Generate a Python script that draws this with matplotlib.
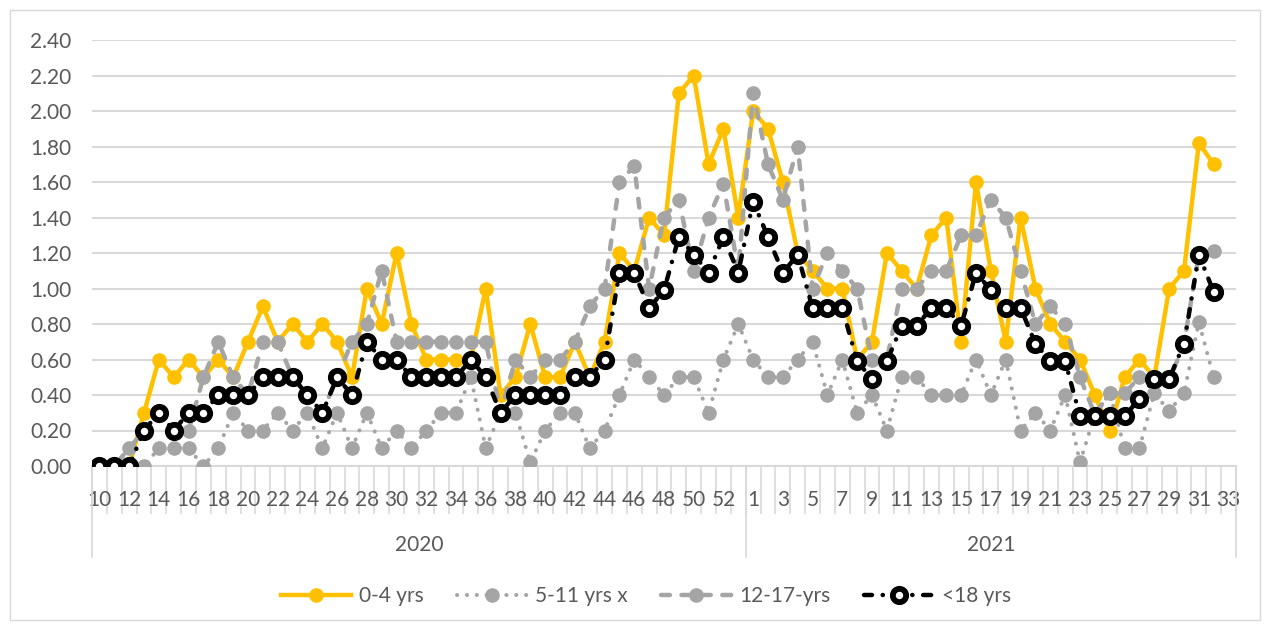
import matplotlib
matplotlib.use("Agg")
import matplotlib.pyplot as plt
import matplotlib.transforms as mtransforms
from matplotlib.patches import Rectangle
import numpy as np

plt.rcParams['font.family'] = ['Lato', 'DejaVu Sans']

# ---- data (incidence per week) ----
weeks_2020 = list(range(10, 54))
weeks_2021 = list(range(1, 34))
week_labels = [str(w) for w in weeks_2020 + weeks_2021]
years = ['2020', '2021']

age_0_4 = [0, 0, 0, 0.30, 0.60, 0.50, 0.60, 0.50, 0.60, 0.50, 0.70, 0.90, 0.70, 0.80, 0.70,
           0.80, 0.70, 0.50, 1.00, 0.80, 1.20, 0.80, 0.60, 0.60, 0.60, 0.60, 1.00, 0.40,
           0.50, 0.80, 0.50, 0.50, 0.70, 0.50, 0.70, 1.20, 1.10, 1.40, 1.30, 2.10, 2.20,
           1.70, 1.90, 1.40,
           2.00, 1.90, 1.60, 1.20, 1.10, 1.00, 1.00, 0.60, 0.70, 1.20, 1.10, 1.00, 1.30,
           1.40, 0.70, 1.60, 1.10, 0.70, 1.40, 1.00, 0.80, 0.70, 0.60, 0.40, 0.20, 0.50,
           0.60, 0.50, 1.00, 1.10, 1.82, 1.70, np.nan]

age_5_11 = [0, 0, 0, 0, 0.10, 0.10, 0.10, 0.00, 0.10, 0.30, 0.20, 0.20, 0.30, 0.20, 0.30,
            0.10, 0.30, 0.10, 0.30, 0.10, 0.20, 0.10, 0.20, 0.30, 0.30, 0.50, 0.10, 0.30,
            0.30, 0.02, 0.20, 0.30, 0.30, 0.10, 0.20, 0.40, 0.60, 0.50, 0.40, 0.50, 0.50,
            0.30, 0.60, 0.80,
            0.60, 0.50, 0.50, 0.60, 0.70, 0.40, 0.60, 0.30, 0.40, 0.20, 0.50, 0.50, 0.40,
            0.40, 0.40, 0.60, 0.40, 0.60, 0.20, 0.30, 0.20, 0.40, 0.02, 0.29, 0.41, 0.10,
            0.10, 0.41, 0.31, 0.41, 0.81, 0.50, np.nan]

age_12_17 = [0, 0, 0.10, 0.20, 0.30, 0.20, 0.20, 0.50, 0.70, 0.50, 0.40, 0.70, 0.70, 0.50,
             0.40, 0.30, 0.50, 0.70, 0.80, 1.10, 0.70, 0.70, 0.70, 0.70, 0.70, 0.70, 0.70,
             0.30, 0.60, 0.50, 0.60, 0.60, 0.70, 0.90, 1.00, 1.60, 1.69, 1.00, 1.40, 1.50,
             1.10, 1.40, 1.59, 1.10,
             2.10, 1.70, 1.50, 1.80, 1.00, 1.20, 1.10, 1.00, 0.60, 0.60, 1.00, 1.00, 1.10,
             1.10, 1.30, 1.30, 1.50, 1.40, 1.10, 0.80, 0.90, 0.80, 0.50, 0.29, 0.41, 0.41,
             0.50, 0.48, 0.48, 0.69, 1.19, 1.21, np.nan]

age_under_18 = [0, 0, 0, 0.20, 0.30, 0.20, 0.30, 0.30, 0.40, 0.40, 0.40, 0.50, 0.50, 0.50,
                0.40, 0.30, 0.50, 0.40, 0.70, 0.60, 0.60, 0.50, 0.50, 0.50, 0.50, 0.60, 0.50,
                0.30, 0.40, 0.40, 0.40, 0.40, 0.50, 0.50, 0.60, 1.09, 1.09, 0.89, 0.99, 1.29,
                1.19, 1.09, 1.29, 1.09,
                1.49, 1.29, 1.09, 1.19, 0.89, 0.89, 0.89, 0.59, 0.49, 0.59, 0.79, 0.79, 0.89,
                0.89, 0.79, 1.09, 0.99, 0.89, 0.89, 0.69, 0.59, 0.59, 0.28, 0.28, 0.28, 0.28,
                0.38, 0.49, 0.49, 0.69, 1.19, 0.98, np.nan]

W, H = 1266, 627
fig = plt.figure(figsize=(W / 100, H / 100), dpi=100)
ax = fig.add_axes([92 / W, 1 - 466 / H, (1236 - 92) / W, (466 - 40) / H])

x = np.arange(len(week_labels))
grid_c = '#d9d9d9'
text_c = '#595959'
fs = 15

ax.plot(x, age_0_4, color='#FFC000', lw=3.2, marker='o', ms=9.5, mec='#FFC000',
        solid_joinstyle='round', label='0-4 yrs', zorder=3)
ax.plot(x, age_5_11, color='#A5A5A5', lw=2.9, ls=(0, (0.05, 2.4)), dash_capstyle='round',
        marker='o', ms=9.5, mec='#A5A5A5', label='5-11 yrs x', zorder=4)
ax.plot(x, age_12_17, color='#A5A5A5', lw=3.2, ls=(0, (2.0, 2.6)), dash_capstyle='round',
        marker='o', ms=9.5, mec='#A5A5A5', label='12-17-yrs', zorder=5)
ax.plot(x, age_under_18, color='black', lw=3.2, ls=(0, (1.8, 2.4, 0.05, 2.4)),
        dash_capstyle='round', marker='o', ms=9.6, mfc='white', mec='black', mew=4.2,
        label='<18 yrs', zorder=6)

ax.set_xlim(-0.5, len(x) - 0.5)
ax.set_ylim(0, 2.4)
ax.set_yticks(np.arange(0, 2.41, 0.2))
ax.set_yticklabels([f'{v:.2f}' for v in np.arange(0, 2.41, 0.2)])
ax.yaxis.grid(True, color=grid_c, lw=1.5)
ax.set_axisbelow(True)
for s in ax.spines.values():
    s.set_visible(False)
ax.tick_params(axis='y', length=0, pad=15, labelsize=fs, labelcolor=text_c)

ax.set_xticks(x[::2])
ax.set_xticklabels(week_labels[::2])
ax.tick_params(axis='x', length=0, pad=17, labelsize=fs, labelcolor=text_c)

# category axis: baseline, separators and year groups
trans = mtransforms.blended_transform_factory(ax.transData, ax.transAxes)
ax_h = 466 - 40
ax.plot([-0.5, len(x) - 0.5], [0, 0], color=grid_c, lw=1.5, transform=trans, clip_on=False)
for i in range(len(x) + 1):
    ax.plot([i - 0.5, i - 0.5], [0, -47 / ax_h], color=grid_c, lw=1.2,
            transform=trans, clip_on=False, zorder=0)
n20 = len(weeks_2020)
for b in [-0.5, n20 - 0.5, len(x) - 0.5]:
    ax.plot([b, b], [0, -91 / ax_h], color=grid_c, lw=1.2, transform=trans, clip_on=False)
ax.text((n20 - 1) / 2, -79 / ax_h, years[0], transform=trans, ha='center', va='center',
        fontsize=fs, color=text_c)
ax.text(n20 + (len(weeks_2021) - 1) / 2, -79 / ax_h, years[1], transform=trans,
        ha='center', va='center', fontsize=fs, color=text_c)

fig.legend(loc='center', bbox_to_anchor=(0.51, 1 - 596 / H), ncol=4, frameon=False,
           fontsize=fs, handlelength=3.4, handletextpad=0.35, columnspacing=1.6,
           labelcolor=text_c)

fig.patches.append(Rectangle((10 / W, 1 - 620 / H), 1250 / W, 610 / H, transform=fig.transFigure,
                             fill=False, ec=grid_c, lw=1))

fig.savefig('out.png', dpi=100)
